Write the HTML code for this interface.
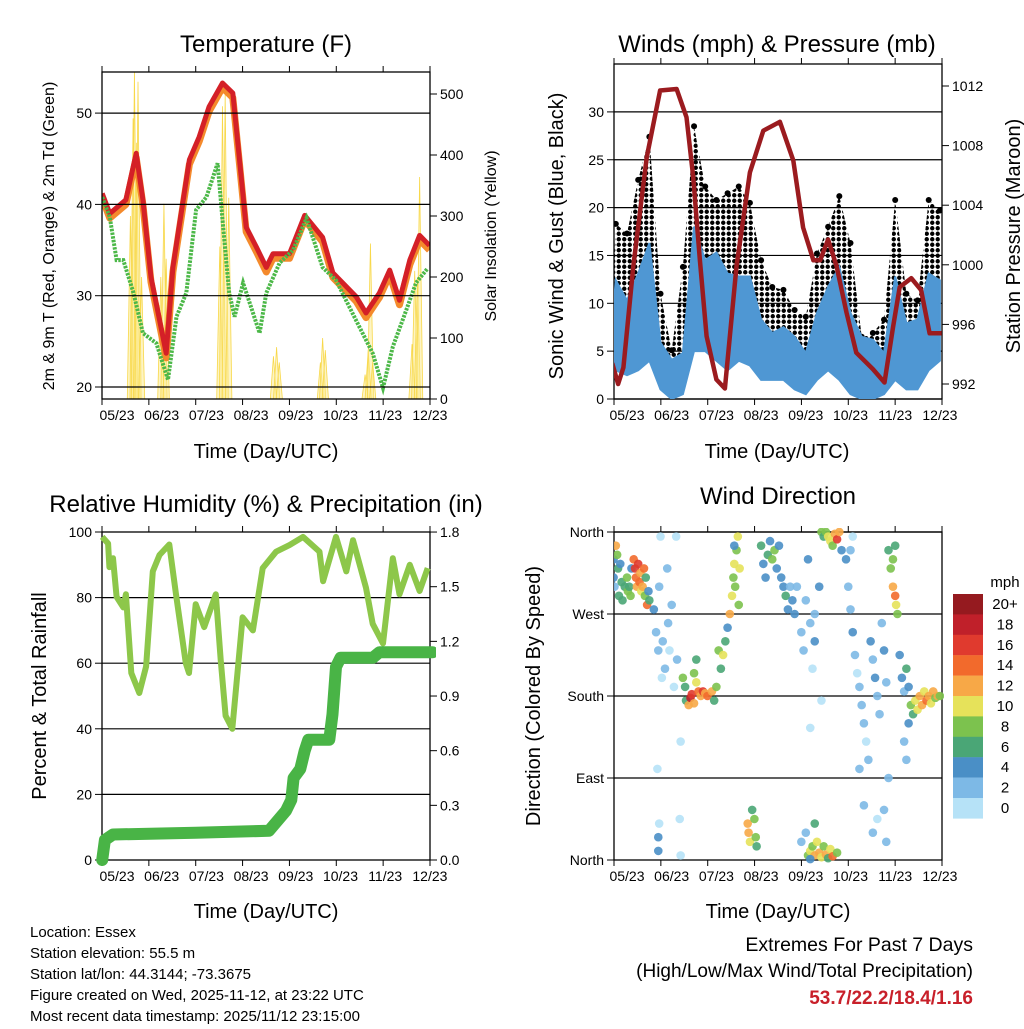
<!DOCTYPE html>
<html><head><meta charset="utf-8"><style>
body{margin:0;background:#fff;}
svg text{font-family:"Liberation Sans",sans-serif;fill:#000;}
</style></head><body>
<svg id="s" width="1024" height="1024" viewBox="0 0 1024 1024" xmlns="http://www.w3.org/2000/svg">
<defs>
<pattern id="dots" width="5.5" height="5.5" patternUnits="userSpaceOnUse"><circle cx="2.75" cy="2.75" r="2.2" fill="#000"/></pattern>
<clipPath id="cTL"><rect x="102" y="72" width="328" height="327"/></clipPath>
<clipPath id="cTR"><rect x="614" y="71" width="328" height="328"/></clipPath>
<clipPath id="cBL"><rect x="96" y="528" width="340" height="338"/></clipPath>
<clipPath id="cBR"><rect x="614" y="528" width="330" height="336"/></clipPath>
</defs>
</svg>
<script>
// ---------- data ----------
const xLabels=["05/23","06/23","07/23","08/23","09/23","10/23","11/23","12/23"];
const tempT=[-0.33,-0.16,0.2,0.43,0.58,0.76,1.1,1.25,1.62,1.84,2.06,2.36,2.59,2.74,2.89,3.12,3.34,3.49,3.86,4.2,4.6,4.83,5.35,5.57,5.87,6.1,6.32,6.55,6.77,6.99];
const tempVals=[41.2,39,40.5,45.6,40.5,32,23.7,33.1,44.9,47.4,50.7,53.3,52.2,44.9,37.5,35.3,33.1,34.6,34.6,38.8,36.4,32.5,29.9,28.1,30.3,32.8,29.5,33.9,36.6,35.5];
const dewT=[-0.33,-0.16,-0.01,0.14,0.37,0.58,0.88,1.14,1.33,1.55,1.77,2.0,2.25,2.36,2.51,2.63,2.82,3.19,3.34,3.64,3.94,4.24,4.6,4.9,5.35,5.72,5.95,6.17,6.47,6.69,6.95];
const dewVals=[40.8,38.6,33.9,33.9,30.3,25.9,24.8,20.8,27.7,30.3,39.4,40.8,44.5,38.3,30.3,27.7,31.4,25.9,30.3,33.6,35,38.5,33.1,31.7,27.3,23.7,19.9,24.4,28.4,31.4,33];
const solT=[0.3,0.36,0.39,0.44,0.47,0.55,0.98,1.05,1.1,2.3,2.36,2.42,2.5,3.5,3.57,3.63,4.55,4.6,4.66,5.55,5.62,5.67,5.72,6.6,6.66,6.72,6.77];
const solVals=[300,460,540,420,520,200,200,320,230,250,480,500,330,70,85,60,60,100,80,40,80,255,60,90,210,200,364];
const presT=[-0.33,-0.2,-0.08,0.14,0.44,0.74,1.11,1.33,1.48,1.63,1.78,2.0,2.19,2.45,2.75,3.05,3.42,3.72,3.94,4.17,4.32,4.5,4.69,4.91,5.13,5.5,5.76,5.95,6.1,6.36,6.58,6.77,7.04];
const presVals=[993.4,992,993.1,999.9,1007.2,1011.7,1011.8,1009.9,1005.9,1000.3,995.2,992.3,991.7,999.9,1006.2,1009,1009.6,1007,1002.5,1000.3,1000.3,1001.7,999.9,996.8,994.1,993,992.1,995.8,998.5,999.1,998.3,995.4,995.4];
const windT=[-0.33,-0.25,0,0.25,0.5,0.75,1,1.25,1.5,1.75,2,2.25,2.5,2.75,3,3.25,3.5,3.75,4,4.25,4.5,4.75,5,5.25,5.5,5.75,6,6.25,6.5,6.75,7];
const windHi=[8,12.4,10.3,13.1,16.3,5.9,4.1,4.8,18,14.5,15.3,13.1,12.8,12.8,8.3,6.9,7.5,6.5,4.8,9,11.7,13.8,9,6.5,6.2,4.8,12.8,7.9,8.3,13.1,12.4];
const windLo=[2,3,2.5,3,4,1,0,0.5,5,5,4,3,4,3.5,2,2,2,1,0.5,2,3,2,0.5,0,0,0.5,2,1,1,3,4];
const gustHi=[10,18.3,17.3,22.9,27.4,11,5.1,13.8,28.5,22.2,20.8,21.5,22.2,20.5,14.5,11.7,11.4,9.3,8.6,15.2,18,21.2,16.3,6.5,6.9,8.3,20.8,11,10.3,20.8,19.7];
const rhT=[-0.33,-0.2,-0.17,-0.09,-0.01,0.14,0.2,0.32,0.5,0.65,0.8,0.95,1.17,1.32,1.54,1.61,1.76,1.95,2.21,2.32,2.43,2.58,2.81,3.04,3.26,3.56,3.86,4.16,4.53,4.61,4.9,5.13,5.28,5.57,5.72,5.95,6.17,6.32,6.55,6.77,6.95];
const rhVals=[98.5,96.5,89.3,92,80.2,77,81,57,50.9,59,88,93,96.2,81,60,57,78,71,81,61,44,40,74,70,89,94,96,98.5,94,85,98.5,88,97.5,83,72,66,92,81,90,82,89];
const prT=[-0.33,-0.27,-0.09,1.76,3.4,3.78,3.9,3.95,4.1,4.2,4.28,4.75,4.82,4.9,5.0,5.72,5.87,7.06];
const prVals=[0,0.11,0.14,0.15,0.16,0.27,0.33,0.45,0.5,0.6,0.66,0.66,0.8,1.06,1.11,1.11,1.14,1.14];
const wdT=[-0.3,-0.3,-0.28,-0.25,-0.22,-0.2,-0.18,-0.15,-0.12,-0.1,-0.05,0,0.02,0.05,0.08,0.1,
0.15,0.18,0.2,0.22,0.25,0.28,0.3,0.32,0.35,0.38,0.4,0.42,0.45,0.48,0.5,
0.6,0.65,0.7,0.72,0.75,0.78,0.8,0.85,0.9,0.92,0.95,1.0,1.05,1.1,1.12,0.7,0.72,0.68,1.2,1.18,1.2,0.7,
1.25,1.3,1.32,1.38,1.42,1.45,1.5,1.55,1.6,1.65,1.7,1.75,1.8,1.9,1.95,2.0,2.05,2.1,2.15,2.2,1.5,1.55,
2.25,2.3,2.35,2.38,2.4,2.42,2.45,2.48,2.5,2.52,2.4,
2.7,2.72,2.75,2.8,2.85,2.88,2.9,
3.0,3.05,3.1,3.15,3.2,3.25,3.3,3.35,3.4,3.45,3.5,3.55,3.6,3.65,3.7,3.75,3.8,
3.9,3.95,4.0,4.05,4.1,4.15,4.2,4.3,4.35,4.1,4.2,
4.35,4.4,4.45,4.5,4.55,4.6,4.65,4.7,4.75,4.8,
3.9,4.0,4.05,4.1,4.15,4.2,4.25,4.3,4.35,4.4,4.45,4.5,4.55,4.6,4.7,4.2,4.1,
4.9,4.95,5.0,5.05,5.1,5.15,5.2,5.25,5.3,5.35,5.4,5.45,5.5,5.55,5.6,5.65,5.7,5.75,5.8,5.85,5.3,5.5,5.6,5.0,5.05,5.2,5.8,5.75,
5.85,5.9,5.95,6.0,6.02,5.95,6.05,6.0,
6.1,6.15,6.2,6.25,6.3,6.35,6.4,6.45,6.5,6.55,6.6,6.65,6.7,6.75,6.8,6.85,6.9,6.95,7.0,6.3,6.2,6.25];
const wdDir=[330,310,300,345,335,320,290,325,305,285,300,310,295,300,290,320,
330,320,310,300,325,305,315,295,300,320,290,310,280,295,285,
275,250,230,300,355,200,240,210,320,260,230,280,190,355,220,10,40,100,5,45,130,25,
200,190,175,170,178,182,172,195,185,180,185,183,180,185,175,190,230,210,225,240,205,220,
255,270,290,310,325,300,340,355,280,320,345,
40,30,20,55,45,25,15,
345,325,310,335,350,330,340,320,345,310,300,290,275,300,285,270,300,
250,230,285,330,260,210,240,300,175,145,270,
360,355,360,355,350,345,358,352,360,340,
20,30,5,10,15,5,20,8,3,15,6,2,12,4,8,40,1,
330,300,275,250,225,205,190,170,150,130,110,240,220,200,180,160,260,230,195,90,60,30,45,340,355,100,20,55,
340,320,300,290,280,330,270,345,
225,200,185,210,190,170,160,175,165,180,170,185,175,180,172,185,178,180,180,150,130,110];
const wdSpd=[4,4,2,12,8,6,6,4,6,6,6,8,8,6,8,4,
14,16,14,12,16,14,12,10,12,14,8,6,14,4,6,
4,2,2,2,0,0,2,2,2,2,0,2,0,0,2,4,0,0,0,0,0,4,
8,6,6,12,18,16,12,10,14,12,16,12,14,12,6,8,8,6,10,6,8,6,
4,12,10,8,10,8,8,10,8,10,4,
12,12,10,6,8,8,6,
6,4,4,6,4,8,8,4,4,4,4,6,4,2,4,4,2,
2,2,2,4,2,0,4,4,0,0,2,
8,6,8,10,10,8,12,16,12,4,
2,2,8,10,8,12,10,12,10,8,12,6,10,14,8,6,4,
4,2,2,4,2,0,2,2,2,0,2,4,2,4,2,2,2,4,2,2,2,2,0,2,0,2,2,2,
6,8,12,14,10,8,8,6,
4,4,2,6,4,8,6,10,10,12,12,10,14,12,10,12,8,12,8,4,2,2];
const cbLabels=["20+","18","16","14","12","10","8","6","4","2","0"];
const cbColors=["#951a1f","#c0202a","#e03a2e","#f26a2c","#f7a847","#e6e25a","#7cc24e","#4aa676","#4a8fc6","#7db9e6","#b6e2f7"];

// ---------- axis functions ----------
const xL=t=>117+t*44.7, xR=t=>627+t*44.7;
const yT=v=>387-(v-20)*9.13, ySol=v=>399-v*0.61;
const yW=v=>399-v*9.57, yP=p=>384-(p-992)*14.9;
const yRH=v=>860-v*3.28, yPr=v=>860-v*182.2;
const yD=d=>860-d*328/360;

const S=document.getElementById('s'), NS="http://www.w3.org/2000/svg";
function el(tag,attrs,parent,txt){const e=document.createElementNS(NS,tag);for(const k in attrs)e.setAttribute(k,attrs[k]);if(txt!==undefined)e.textContent=txt;(parent||S).appendChild(e);return e;}
function pathOf(ts,vs,fx,fy){return ts.map((t,i)=>(i?'L':'M')+fx(t).toFixed(1)+','+fy(vs[i]).toFixed(1)).join('');}
function text(x,y,s,size,anchor,parent,extra){const e=el('text',Object.assign({x:x,y:y,'font-size':size,'text-anchor':anchor||'middle'},extra||{}),parent,s);return e;}

function frame(g,x0,y0,x1,y1,xfn,grid,yfnL,ticksL,labL,yfnR,ticksR,labR,name){
  grid.forEach(v=>{const l=el('line',{x1:x0,x2:x1,y1:yfnL(v),y2:yfnL(v),stroke:'#000','stroke-width':1.2},g);

});
  el('rect',{x:x0,y:y0,width:x1-x0,height:y1-y0,fill:'none',stroke:'#000','stroke-width':1.3},g);
  for(let k=0;k<8;k++){const tx=x0+k*(x1-x0)/7;
    el('line',{x1:tx,x2:tx,y1:y1,y2:y1+6,stroke:'#000'},g);el('line',{x1:tx,x2:tx,y1:y0,y2:y0-6,stroke:'#000'},g);
    const lb=text(xfn(k),y1+21,xLabels[k],14,'middle',g);

}
  ticksL.forEach((v,i)=>{const y=yfnL(v);el('line',{x1:x0-7,x2:x0,y1:y,y2:y,stroke:'#000'},g);
    const lb=text(x0-10,y+5,labL[i],14,'end',g);

});
  ticksR.forEach((v,i)=>{const y=yfnR(v);el('line',{x1:x1,x2:x1+7,y1:y,y2:y,stroke:'#000'},g);
    const lb=text(x1+10,y+5,labR[i],14,'start',g);

});
}

// ===== Temperature panel =====
const g1=el('g',{});


text(266,52,'Temperature (F)',24,'middle',g1);
const p1=el('g',{'clip-path':'url(#cTL)'},g1);
solT.forEach((t,i)=>{const s=el('path',{d:`M${xL(t-0.07)},399L${xL(t)},${ySol(solVals[i])}L${xL(t+0.07)},399Z`,fill:'#fbe98a',stroke:'#f8d84a','stroke-width':0.8,'fill-opacity':0.5},p1);

});
const orange=el('path',{d:pathOf(tempT,tempVals.map(v=>v-0.5),xL,yT),fill:'none',stroke:'#f48a2c','stroke-width':7,'stroke-linejoin':'round'},p1);


const red=el('path',{d:pathOf(tempT,tempVals,xL,yT),fill:'none',stroke:'#d42027','stroke-width':5,'stroke-linejoin':'round'},p1);


const dew=el('path',{d:pathOf(dewT,dewVals,xL,yT),fill:'none',stroke:'#4cb848','stroke-width':4,'stroke-dasharray':'2.5 1.2'},p1);


frame(g1,102,72,430,399,xL,[20,30,40,50],yT,[20,30,40,50],['20','30','40','50'],ySol,[0,100,200,300,400,500],['0','100','200','300','400','500'],'temp');
text(266,458,'Time (Day/UTC)',20,'middle',g1);
text(0,0,'2m & 9m T (Red, Orange) & 2m Td (Green)',16,'middle',g1,{transform:'translate(54,236) rotate(-90)'});
text(0,0,'Solar Insolation (Yellow)',16,'middle',g1,{transform:'translate(496,236) rotate(-90)'});

// ===== Winds panel =====
const g2=el('g',{});


text(777,52,'Winds (mph) & Pressure (mb)',24,'middle',g2);
frame(g2,614,64,942,399,xR,[0,5,10,15,20,25,30],yW,[0,5,10,15,20,25,30],['0','5','10','15','20','25','30'],yP,[992,996,1000,1004,1008,1012],['992','996','1000','1004','1008','1012'],'winds');
const p2=el('g',{'clip-path':'url(#cTR)'},g2);
const gustBand=el('path',{d:pathOf(windT,gustHi,xR,yW)+pathOf(windT.slice().reverse(),windHi.slice().reverse(),xR,yW).replace('M','L')+'Z',fill:'url(#dots)'},p2);


windT.forEach((t,i)=>{const c=el('circle',{cx:xR(t),cy:yW(gustHi[i]),r:3,fill:'#000'},p2);

});
const windBand=el('path',{d:pathOf(windT,windHi,xR,yW)+pathOf(windT.slice().reverse(),windLo.slice().reverse(),xR,yW).replace('M','L')+'Z',fill:'#4f97d3',stroke:'#4f97d3','stroke-width':2},p2);


const pres=el('path',{d:pathOf(presT,presVals,xR,yP),fill:'none',stroke:'#9b1b1f','stroke-width':4.5,'stroke-linejoin':'round'},p2);


text(777,458,'Time (Day/UTC)',20,'middle',g2);
text(0,0,'Sonic Wind & Gust (Blue, Black)',20,'middle',g2,{transform:'translate(563,236) rotate(-90)'});
text(0,0,'Station Pressure (Maroon)',20,'middle',g2,{transform:'translate(1020,236) rotate(-90)'});

// ===== RH panel =====
const g3=el('g',{});


text(266,512,'Relative Humidity (%) & Precipitation (in)',24,'middle',g3);
frame(g3,102,532,430,860,xL,[20,40,60,80],yRH,[0,20,40,60,80,100],['0','20','40','60','80','100'],yPr,[0,0.3,0.6,0.9,1.2,1.5,1.8],['0.0','0.3','0.6','0.9','1.2','1.5','1.8'],'rh');
const p3=el('g',{'clip-path':'url(#cBL)'},g3);
const rh=el('path',{d:pathOf(rhT,rhVals,xL,yRH),fill:'none',stroke:'#8dc74a','stroke-width':6,'stroke-linejoin':'round'},p3);


const pr=el('path',{d:pathOf(prT,prVals,xL,yPr),fill:'none',stroke:'#49b446','stroke-width':12,'stroke-linejoin':'round','stroke-linecap':'round'},p3);


text(266,918,'Time (Day/UTC)',20,'middle',g3);
text(0,0,'Percent & Total Rainfall',20,'middle',g3,{transform:'translate(46,696) rotate(-90)'});

// ===== Wind direction panel =====
const g4=el('g',{});


text(778,504,'Wind Direction',24,'middle',g4);
frame(g4,614,532,942,860,xR,[90,180,270,360],yD,[0,90,180,270,360],['North','East','South','West','North'],yD,[],[],'wdir');
const p4=el('g',{'clip-path':'url(#cBR)'},g4);
function spdColor(s){const idx=Math.min(10,Math.floor(s/2));return cbColors[10-idx];}
wdT.forEach((t,i)=>{const c=el('circle',{cx:xR(t),cy:yD(wdDir[i]),r:4.3,fill:spdColor(wdSpd[i]),'fill-opacity':0.9},p4);

});
text(778,918,'Time (Day/UTC)',20,'middle',g4);
text(0,0,'Direction (Colored By Speed)',20,'middle',g4,{transform:'translate(540,696) rotate(-90)'});
// colorbar
const cb=el('g',{},g4);


text(1005,587,'mph',15,'middle',cb);
cbColors.forEach((c,i)=>{const r=el('rect',{x:953,y:594+i*20.4,width:30,height:20.6,fill:c},cb);


const l=text(1005,609+i*20.4,cbLabels[i],15,'middle',cb);

});

// ===== footer text =====
const info=["Location: Essex","Station elevation: 55.5 m","Station lat/lon: 44.3144; -73.3675","Figure created on Wed, 2025-11-12, at 23:22 UTC","Most recent data timestamp: 2025/11/12 23:15:00"];
info.forEach((s,i)=>{const t=text(30,937+i*21,s,15,'start');

});
text(973,951,'Extremes For Past 7 Days',19.5,'end');
text(973,977,'(High/Low/Max Wind/Total Precipitation)',19,'end');
const ex=text(973,1004,'53.7/22.2/18.4/1.16',19,'end',null,{'font-weight':'bold'});

ex.style.fill='#c8202a';
</script>
</body></html>
